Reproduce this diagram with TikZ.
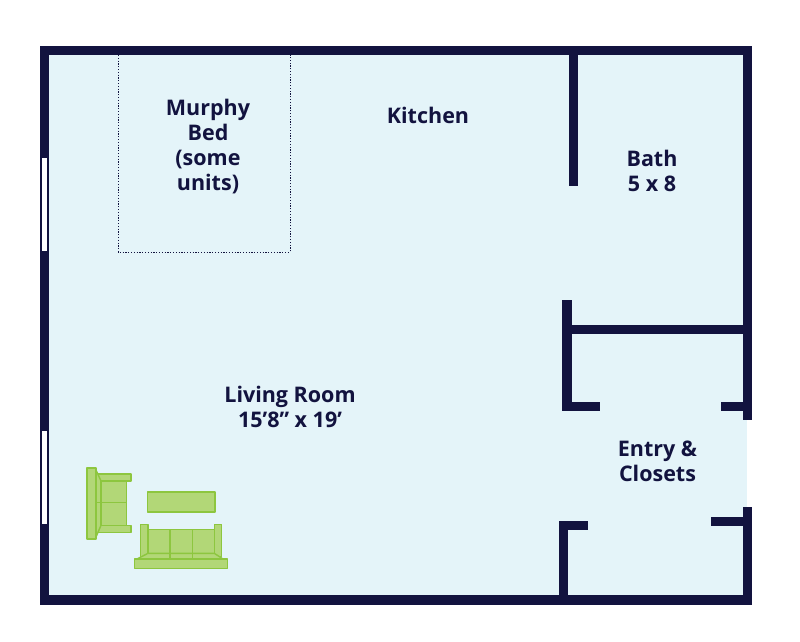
\documentclass[tikz,border=0pt]{standalone}
\usepackage{fontspec}
\setmainfont{Open Sans}
\definecolor{wallblue}{HTML}{12133F}
\definecolor{floorblue}{HTML}{E4F4F9}
\definecolor{sofafill}{HTML}{B2D777}
\definecolor{sofaline}{HTML}{8DC63F}
\tikzset{
  wall/.style={fill=wallblue},
  furn/.style={fill=sofafill, draw=sofaline, line width=1.4pt, line join=round},
  roomlabel/.style={text=wallblue, align=center, font=\fontsize{21.5}{25}\selectfont\bfseries}
}
\begin{document}
\begin{tikzpicture}[x=1pt, y=-1pt]
      \useasboundingbox (0,0) rectangle (800,641);
      \fill[color=white] (0,0) rectangle (800,641);
      \fill[color=floorblue] (44,50) rectangle (747,600);
      \fill[wall] (40,46) rectangle (752,55);
      \fill[wall] (40,595) rectangle (752,605);
      \fill[wall] (40,46) rectangle (49,605);
      \fill[wall] (743,46) rectangle (752,420);
      \fill[wall] (743,507) rectangle (752,605);
      \fill[wall] (569,55) rectangle (578,186);
      \fill[wall] (562,300) rectangle (571.5,411);
      \fill[wall] (562,402) rectangle (600,411);
      \fill[wall] (571,325) rectangle (743,334);
      \fill[wall] (721,402) rectangle (743,411);
      \fill[wall] (711,517) rectangle (743,526);
      \fill[wall] (559,521) rectangle (568,595);
      \fill[wall] (559,521) rectangle (588,530);
      \foreach \ytop/\ybot in {158/251, 431/524}
        \fill[color=white] (41.5,\ytop) rectangle (46.5,\ybot);
      \draw[color=wallblue, line width=1pt, dash pattern=on 1.2pt off 1.6pt] (118,55) -- (118,252) -- (290,252) -- (290,55);
      \draw[furn] (96,474) rectangle (131,481);
      \draw[furn] (96,525.3) rectangle (131,532.3);
      \draw[furn] (96,470) -- (101,481) -- (101,525.3) -- (96,537) -- cycle;
      \draw[furn] (101,481) rectangle (126.7,525.3);
      \draw[furn] (87,468) -- (96,468) -- (96,539) -- (87,539) -- cycle;
      \draw[color=sofaline, line width=1.4pt] (96,502.7) -- (126.7,502.7);
      \draw[furn] (147.7,492) rectangle (215,512);
      \draw[furn] (148,529.3) rectangle (214.3,553.3);
      \draw[furn] (140.7,524.3) rectangle (148,556.7);
      \draw[furn] (214.3,524.3) rectangle (221.7,556.7);
      \draw[furn] (148,553.3) -- (214.3,553.3) -- (223,559) -- (137,559) -- cycle;
      \draw[furn] (134.7,559) rectangle (227.3,568.7);
      \draw[color=sofaline, line width=1.4pt] (170,529.3) -- (170,559);
      \draw[color=sofaline, line width=1.4pt] (192.3,529.3) -- (192.3,559);
      \node[roomlabel] (murphy) at (208,146.5) {Murphy\\Bed\\(some\\units)};
      \node[roomlabel] (kitchen) at (428,115.5) {Kitchen};
      \node[roomlabel] (bath) at (652,171) {Bath\\5 x 8};
      \node[roomlabel] (living) at (290,406.5) {Living Room\\15’8” x 19’};
      \node[roomlabel] (entry) at (657.5,461) {Entry \&\\Closets};
    \end{tikzpicture}
\end{document}
